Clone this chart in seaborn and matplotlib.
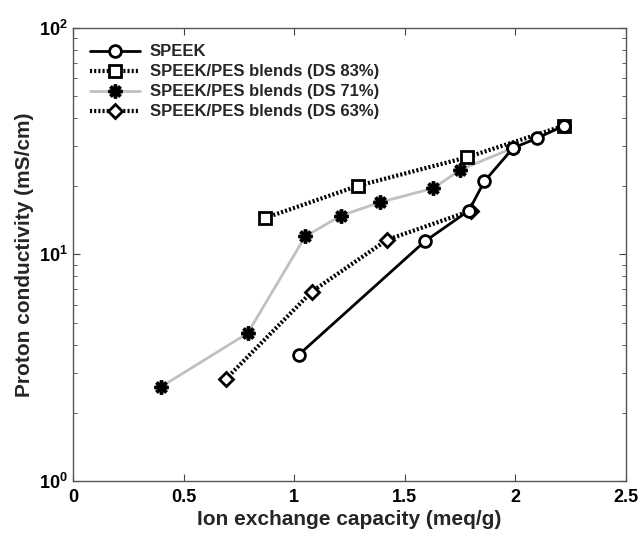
import matplotlib
matplotlib.use("Agg")
import matplotlib.pyplot as plt
import matplotlib.ticker as mticker
import seaborn as sns
import numpy as np

# values
speek_x = [1.02, 1.59, 1.79, 1.86, 1.99, 2.10, 2.22]
speek_y = [3.6, 11.4, 15.6, 21.0, 29.5, 32.6, 37.0]

ds83_x = [0.87, 1.29, 1.78, 2.22]
ds83_y = [14.5, 20.1, 26.8, 37.0]

ds71_x = [0.40, 0.79, 1.05, 1.21, 1.39, 1.63, 1.75, 1.99]
ds71_y = [2.61, 4.49, 12.0, 14.8, 17.0, 19.6, 23.6, 29.5]

ds63_x = [0.69, 1.08, 1.42, 1.80]
ds63_y = [2.81, 6.85, 11.6, 15.6]

labels = ['SPEEK', 'SPEEK/PES blends (DS 83%)',
          'SPEEK/PES blends (DS 71%)', 'SPEEK/PES blends (DS 63%)']

sns.set_style("ticks")
plt.rcParams['font.family'] = ['Liberation Sans', 'DejaVu Sans']
plt.rcParams['font.weight'] = 'bold'
plt.rcParams['mathtext.fontset'] = 'custom'
plt.rcParams['mathtext.bf'] = 'Liberation Sans:bold'
plt.rcParams['mathtext.rm'] = 'Liberation Sans:bold'

fig = plt.figure(figsize=(6.4, 5.35), dpi=100)
ax = fig.add_axes([0.114, 0.101, 0.864, 0.847])

dots = (0, (0.5, 0.5))
sns.lineplot(x=speek_x, y=speek_y, ax=ax, label=labels[0], color='black', lw=2,
             marker='o', ms=8.5, mfc='white', mec='black', mew=2, zorder=4)
sns.lineplot(x=ds83_x, y=ds83_y, ax=ax, label=labels[1], color='black', lw=3,
             linestyle=dots, marker='s', ms=8, mfc='white', mec='black', mew=2, zorder=3)
sns.lineplot(x=ds71_x, y=ds71_y, ax=ax, label=labels[2], color='#c0c0c0', lw=2,
             marker=(8, 2, 0), ms=10, mfc='black', mec='black', mew=2.5, zorder=2)
sns.lineplot(x=ds63_x, y=ds63_y, ax=ax, label=labels[3], color='black', lw=3,
             linestyle=dots, marker='D', ms=7, mfc='white', mec='black', mew=2, zorder=3)

ax.set_yscale('log')
ax.set_xlim(0, 2.5)
ax.set_ylim(1, 100)
ax.xaxis.set_major_locator(mticker.MultipleLocator(0.5))
ax.xaxis.set_major_formatter(mticker.FuncFormatter(lambda v, p: '%g' % v))
ax.yaxis.set_major_formatter(mticker.FuncFormatter(
    lambda v, p: r'$\mathbf{10^{%d}}$' % int(round(np.log10(v)))))
ax.yaxis.set_minor_formatter(mticker.NullFormatter())

ax.tick_params(which='both', direction='in', top=True, right=True,
               colors='#444444', labelcolor='black', labelsize=13)
ax.tick_params(axis='x', pad=6)
ax.tick_params(which='major', length=5)
ax.tick_params(which='minor', length=3)
for s in ax.spines.values():
    s.set_color('#555555')
    s.set_linewidth(1)

ax.set_xlabel('Ion exchange capacity (meq/g)', fontsize=15, fontweight='bold', labelpad=3)
ax.set_ylabel('Proton conductivity (mS/cm)', fontsize=15, fontweight='bold', labelpad=4)

leg = ax.legend(loc='upper left', frameon=False, fontsize=12, handlelength=3.0,
                borderaxespad=0.6, labelspacing=0.3, handletextpad=0.6)
for t in leg.get_texts():
    t.set_fontweight('bold')

fig.savefig('out.png', dpi=100)
